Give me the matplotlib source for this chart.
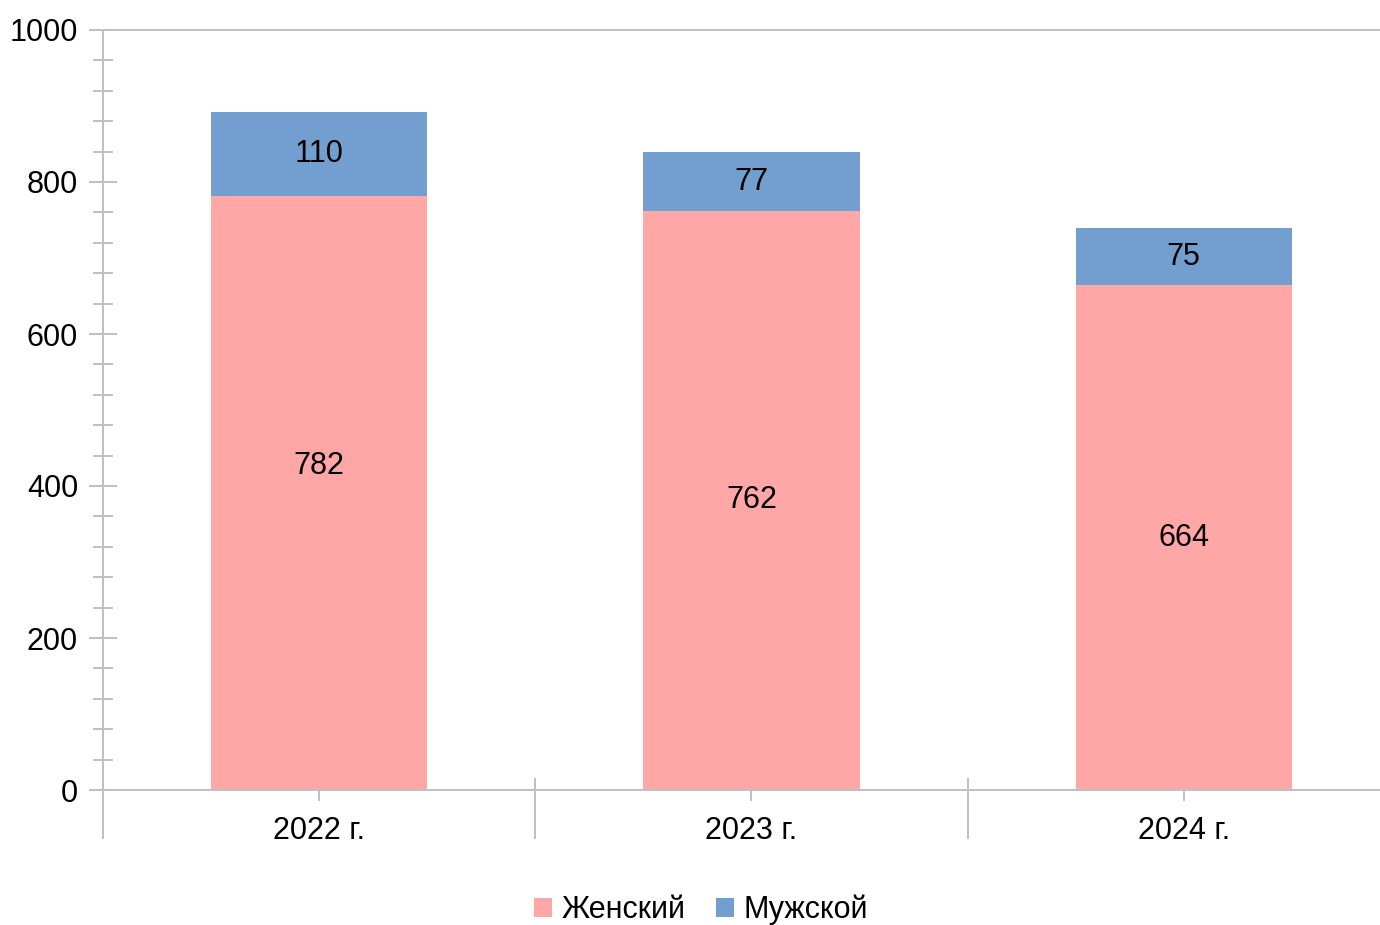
import matplotlib.pyplot as plt
from matplotlib.patches import Patch
import numpy as np

plt.rcParams['font.family'] = ['Liberation Sans', 'DejaVu Sans']

years = ['2022 г.', '2023 г.', '2024 г.']
female = [782, 762, 664]
male = [110, 77, 75]
series_names = ['Женский', 'Мужской']
colors = ['#ffa6a6', '#729fcf']
grey = '#c0c0c0'

fig = plt.figure(figsize=[13.8, 9.25], dpi=100)
ax = fig.add_axes([103/1380, 135/925, 1 - 103/1380, 760/925])

x = np.arange(len(years))
ax.bar(x, female, width=0.5, color=colors[0], zorder=2)
ax.bar(x, male, width=0.5, bottom=female, color=colors[1], zorder=2)

# value labels in the middle of each segment (first one sits a bit higher in the original)
offsets = [19, 0, 0]
for i in range(len(years)):
    ax.annotate(str(female[i]), (x[i], female[i] / 2), xytext=(0, offsets[i]),
                textcoords='offset points', ha='center', va='center', fontsize=22, zorder=3)
    ax.annotate(str(male[i]), (x[i], female[i] + male[i] / 2), ha='center', va='center',
                fontsize=22, zorder=3)

ax.set_ylim(0, 1000)
ax.set_xlim(-0.5, 2.454)

# y axis: major every 200, minor every 40, crossing the axis line
ax.set_yticks(np.arange(0, 1001, 200))
ax.set_yticks(np.arange(0, 1001, 40), minor=True)
ax.tick_params(axis='y', which='major', direction='inout', length=20, width=1.4,
               color=grey, labelsize=22, pad=8)
ax.tick_params(axis='y', which='minor', direction='inout', length=14, width=1.4, color=grey)

# x axis: long separators between categories, short ticks under the bars
ax.set_xticks([-0.5, 0.5, 1.5])
ax.set_xticklabels([])
ax.set_xticks(x, minor=True)
ax.set_xticklabels(years, minor=True)
ax.tick_params(axis='x', which='major', direction='out', length=35, width=1.4, color=grey)
ax.tick_params(axis='x', which='minor', direction='out', length=8, width=1.4, color=grey,
               labelsize=22, pad=11)
ax.vlines([0.5, 1.5], 0, 16, color=grey, linewidth=1.4, zorder=1)

for side in ['left', 'bottom', 'top']:
    ax.spines[side].set_color(grey)
    ax.spines[side].set_linewidth(1.4)
ax.spines['right'].set_visible(False)

handles = [Patch(facecolor=c, edgecolor='none') for c in colors]
fig.legend(handles, series_names, loc='center', bbox_to_anchor=(0.508, 0.0165), ncol=2,
           frameon=False, fontsize=22, handlelength=0.6, handleheight=0.6,
           handletextpad=0.3, columnspacing=1.0)

plt.savefig('out.png', dpi=100)
